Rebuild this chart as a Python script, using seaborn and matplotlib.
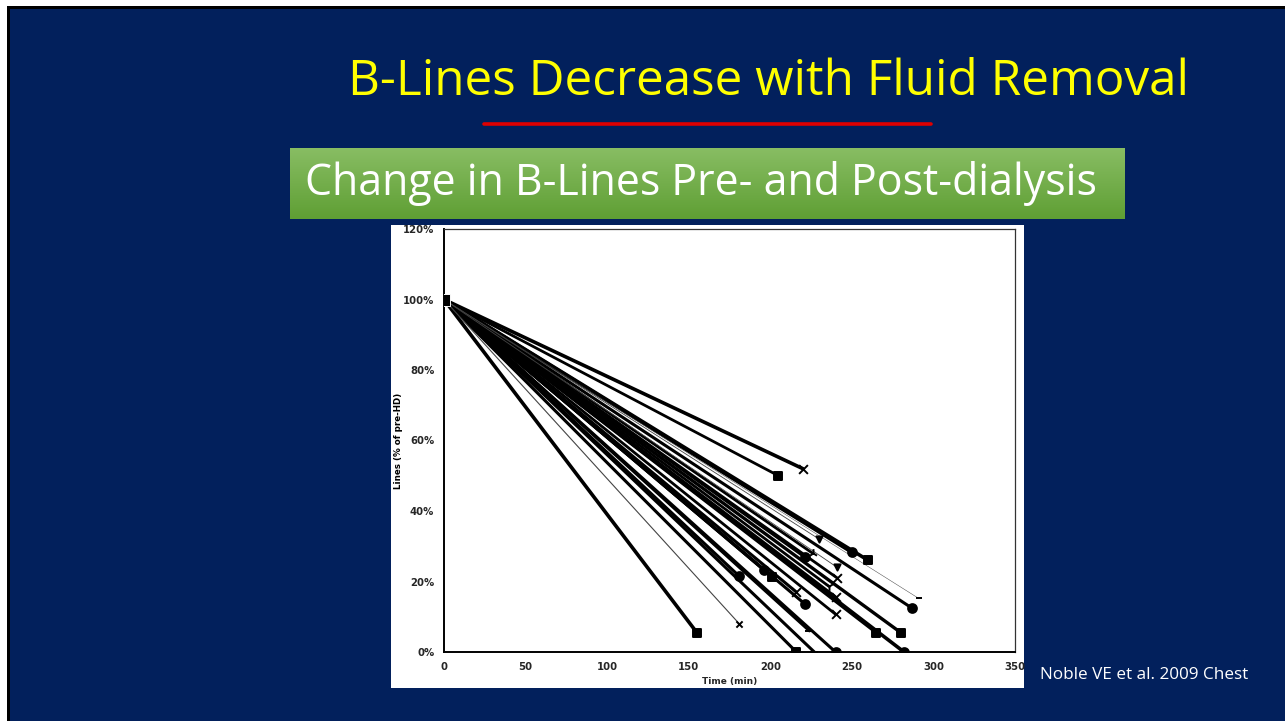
import numpy as np
import pandas as pd
import matplotlib
matplotlib.use("Agg")
import matplotlib.pyplot as plt
from matplotlib.patches import Rectangle
from matplotlib.lines import Line2D
import seaborn as sns

# Per-patient B-line counts (% of pre-dialysis value) at the end of the session
end_time = [155, 181, 196, 201, 205, 216, 216, 221, 220, 221, 226, 227, 224,
            240, 236, 240, 240, 241, 250, 260, 265, 280, 282, 287, 181, 230,
            241, 291]
end_pct = [5.5, 21.5, 23.3, 21.4, 50, 17, 0, 13.7, 52, 27, 28, 0, 6,
           0, 18.6, 10.7, 15.7, 21, 28.3, 26, 5.5, 5.5, 0, 12.4, 8, 32,
           24, 15.2]
end_marker = ["s", "o", "o", "s", "s", "x", "s", "o", "x", "o", "2", "_", "_",
              "o", "1", "x", "x", "x", "o", "s", "s", "s", "o", "o", "x", "v",
              "v", "_"]
line_width = [2.6, 2.2, 2.2, 2.2, 2.0, 2.2, 2.2, 2.2, 2.6, 2.2, 2.0, 2.2, 2.2,
              2.2, 2.0, 2.0, 1.8, 2.0, 2.6, 2.6, 2.4, 2.4, 2.6, 2.2, 0.8, 0.6,
              0.6, 0.35]
start_time = 0
start_pct = 100

x_ticks = [0, 50, 100, 150, 200, 250, 300, 350]
y_ticks = [0, 20, 40, 60, 80, 100, 120]
y_tick_labels = ["0%", "20%", "40%", "60%", "80%", "100%", "120%"]

title = "B-Lines Decrease with Fluid Removal"
subtitle = "Change in B-Lines Pre- and Post-dialysis"
citation = "Noble VE et al. 2009 Chest"

rows = []
for i, (t, p) in enumerate(zip(end_time, end_pct)):
    rows.append({"patient": i, "time": start_time, "pct": start_pct})
    rows.append({"patient": i, "time": t, "pct": p})
df = pd.DataFrame(rows)

sns.set_theme(style="white")
plt.rcParams["font.family"] = ["Open Sans", "DejaVu Sans"]

W, H = 1285, 721
fig = plt.figure(figsize=(W / 100, H / 100), dpi=100)
navy = "#02205C"
fig.patch.set_facecolor("white")


def fx(px):
    return px / W


def fy(py):
    return 1 - py / H


# slide background with its thin dark frame
fig.add_artist(Rectangle((fx(7), 0), 1 - fx(7), fy(6), transform=fig.transFigure,
                         facecolor="black", edgecolor="none", zorder=0))
fig.add_artist(Rectangle((fx(10), 0), 1 - fx(10), fy(9), transform=fig.transFigure,
                         facecolor=navy, edgecolor="none", zorder=0.1))

# title and red rule
fig.text(fx(769), fy(82), title, color="#FFFF00", fontsize=35.6,
         ha="center", va="center", zorder=3)
fig.add_artist(Line2D([fx(484), fx(931)], [fy(124), fy(124)], transform=fig.transFigure,
                      color="#E00000", linewidth=2.6, zorder=3))

# green banner with a vertical gradient
grad = np.linspace(0, 1, 64).reshape(-1, 1)
top_c = np.array([0x88, 0xBD, 0x63]) / 255
bot_c = np.array([0x5F, 0x9F, 0x34]) / 255
img = top_c[None, None, :] * (1 - grad[..., None]) + bot_c[None, None, :] * grad[..., None]
bax = fig.add_axes([fx(290), fy(219), fx(1125) - fx(290), fy(148) - fy(219)])
bax.imshow(img, aspect="auto", extent=[0, 1, 0, 1], origin="upper")
bax.set_axis_off()
bax.set_zorder(1)
fig.text(fx(305), fy(184), subtitle, color="white", fontsize=30.9,
         ha="left", va="center", zorder=3)

# white panel behind the chart
fig.add_artist(Rectangle((fx(391), fy(688)), fx(1024) - fx(391), fy(225) - fy(688),
                         transform=fig.transFigure, facecolor="white",
                         edgecolor="none", zorder=1))

ax = fig.add_axes([fx(444), fy(652), fx(1015) - fx(444), fy(229) - fy(652)])
ax.set_facecolor("white")
ax.set_zorder(2)

for i in range(len(end_time)):
    sub = df[df["patient"] == i]
    thin = line_width[i] < 1.0
    sns.lineplot(data=sub, x="time", y="pct", ax=ax, estimator=None,
                 color="#444444" if thin else "black", linewidth=line_width[i],
                 legend=False)
    sns.scatterplot(x=[end_time[i]], y=[end_pct[i]], ax=ax, marker=end_marker[i],
                    s=40 if not thin else 20, color="black",
                    edgecolor="black", linewidth=1.4, legend=False, zorder=3)
sns.scatterplot(x=[start_time], y=[start_pct], ax=ax, marker="s", s=70,
                color="black", legend=False, zorder=4)

ax.set_xlim(0, 350)
ax.set_ylim(0, 120)
ax.set_xticks(x_ticks)
ax.set_yticks(y_ticks)
ax.set_yticklabels(y_tick_labels)
for lab in ax.get_xticklabels() + ax.get_yticklabels():
    lab.set_fontfamily("DejaVu Sans")
    lab.set_fontweight("bold")
    lab.set_fontsize(7.3)
ax.tick_params(axis="both", direction="inout", length=4, width=1, color="black",
               pad=5)
for side in ["left", "bottom"]:
    ax.spines[side].set_color("black")
    ax.spines[side].set_linewidth(1.4)
for side in ["top", "right"]:
    ax.spines[side].set_color("#333333")
    ax.spines[side].set_linewidth(0.9)
ax.set_xlabel("Time (min)", fontfamily="DejaVu Sans", fontweight="bold",
              fontsize=6.5, labelpad=4)
ax.set_ylabel("Lines (% of pre-HD)", fontfamily="DejaVu Sans", fontweight="bold",
              fontsize=6.3, color="black")
ax.yaxis.set_label_coords(-0.071, 0.5)

fig.text(fx(1040), fy(675), citation, color="white", fontsize=12.3,
         ha="left", va="center", zorder=3)

fig.savefig("out.png", dpi=100, facecolor=fig.get_facecolor())
